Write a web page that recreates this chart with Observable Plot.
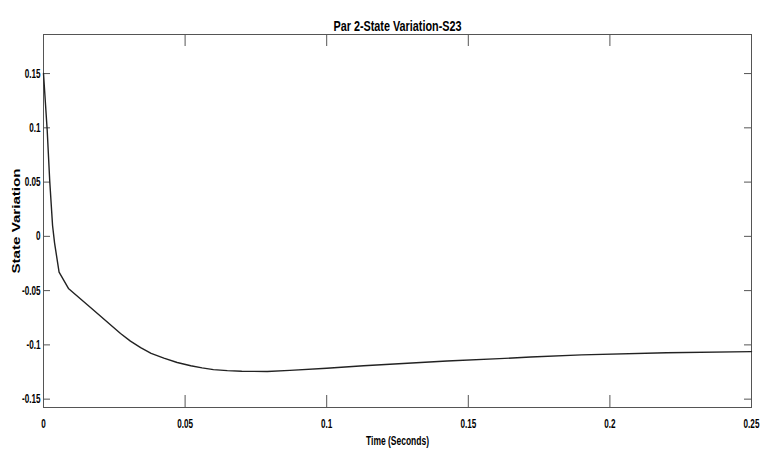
<!DOCTYPE html>
<html>
<head>
<meta charset="utf-8">
<script src="https://cdn.jsdelivr.net/npm/d3@7"></script>
<script src="https://cdn.jsdelivr.net/npm/@observablehq/plot@0.6"></script>
<style>
  html, body { margin: 0; padding: 0; background: #fff; }
</style>
</head>
<body>
<div id="chart"></div>
<script>
const title = "Par 2-State Variation-S23";
const xLabel = "Time (Seconds)";
const yLabel = "State Variation";

const time = [0, 0.0013, 0.0022, 0.0032, 0.0039, 0.0055, 0.0088, 0.0166, 0.0272, 0.0307, 0.0343, 0.038, 0.0425, 0.0472, 0.052, 0.056, 0.060, 0.0649, 0.070, 0.079, 0.087, 0.100, 0.113, 0.1425, 0.161, 0.172, 0.190, 0.220, 0.250];
const stateVar = [0.150, 0.098, 0.051, 0.010, -0.006, -0.033, -0.048, -0.0655, -0.0895, -0.0965, -0.1025, -0.1078, -0.1122, -0.1162, -0.1192, -0.1212, -0.1228, -0.1237, -0.1243, -0.1245, -0.1235, -0.1215, -0.1192, -0.1148, -0.1127, -0.1112, -0.1092, -0.1073, -0.1062];

const xTicks = [0, 0.05, 0.1, 0.15, 0.2, 0.25];
const yTicks = [-0.15, -0.1, -0.05, 0, 0.05, 0.1, 0.15];

const data = time.map((t, i) => ({t, v: stateVar[i]}));

const W = 764, H = 451;
const mL = 43, mR = 13, mT = 34, mB = 44;
const innerW = W - mL - mR, innerH = H - mT - mB;
const fmt = d => String(+d.toFixed(2));
const font = "'Liberation Sans Narrow', 'Arial Narrow', 'Liberation Sans', Arial, sans-serif";
const axisColor = "#555";

const chart = Plot.plot({
  width: W, height: H,
  marginLeft: mL, marginRight: mR, marginTop: mT, marginBottom: mB,
  style: {fontFamily: font, background: "#fff", color: "#000"},
  x: {domain: [0, 0.25]},
  y: {domain: [-0.1577, 0.186]},
  marks: [
    Plot.frame({stroke: axisColor, strokeWidth: 1}),
    Plot.tickX(xTicks, {x: d => d, insetTop: innerH - 12, stroke: axisColor}),
    Plot.tickX(xTicks, {x: d => d, insetBottom: innerH - 12, stroke: axisColor}),
    Plot.tickY(yTicks, {y: d => d, insetRight: innerW - 7, stroke: axisColor}),
    Plot.tickY(yTicks, {y: d => d, insetLeft: innerW - 7, stroke: axisColor}),
    Plot.axisX({ticks: xTicks, tickSize: 0, tickPadding: 12, tickFormat: fmt, fontSize: 12.5, fontWeight: "bold", label: null, className: "tick-x"}),
    Plot.axisY({ticks: yTicks, tickSize: 0, tickPadding: 3, tickFormat: fmt, fontSize: 12.5, fontWeight: "bold", label: null, className: "tick-y"}),
    Plot.line(data, {x: "t", y: "v", stroke: "#222", strokeWidth: 1.4, curve: "linear"}),
    Plot.text([title], {frameAnchor: "top", dy: -14, fontSize: 14.5, fontWeight: "bold", fill: "#000", className: "ttl"}),
    Plot.text([xLabel], {frameAnchor: "bottom", dy: 37, fontSize: 12, fontWeight: "bold", fill: "#000", className: "xlab"}),
    Plot.text([yLabel], {frameAnchor: "left", dx: -27, rotate: -90, textAnchor: "middle", fontSize: 10.5, fontWeight: "bold", fill: "#000", className: "ylab", fontFamily: "'Liberation Sans', Arial, sans-serif"})
  ]
});
document.getElementById("chart").append(chart);

// Condense text to mimic the narrow typeface of the original
function fit(sel, target) {
  chart.querySelectorAll(sel).forEach(t => {
    const len = t.getComputedTextLength();
    if (!len) return;
    const goal = typeof target === "function" ? target(len) : target;
    t.setAttribute("textLength", goal);
    t.setAttribute("lengthAdjust", "spacingAndGlyphs");
  });
}
fit(".ttl text", 128);
fit(".xlab text", 63);
fit(".ylab text", 105);
fit(".tick-x text", len => len * 0.65);
fit(".tick-y text", len => len * 0.65);
</script>
</body>
</html>
